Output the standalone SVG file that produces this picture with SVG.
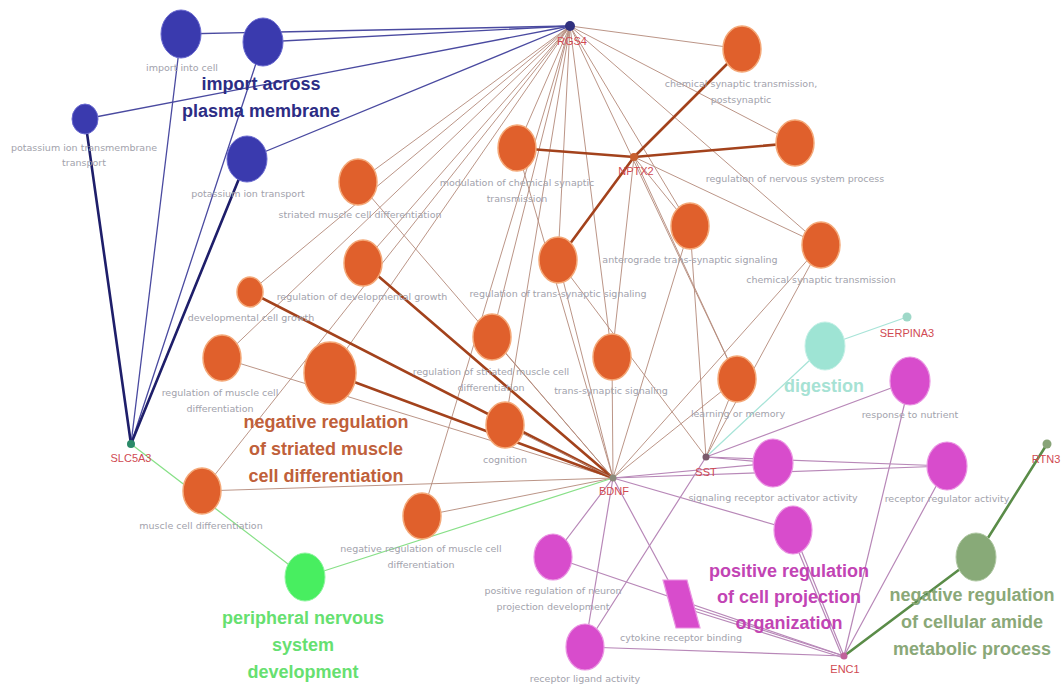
<svg xmlns="http://www.w3.org/2000/svg" width="1061" height="685" viewBox="0 0 1061 685">
<style>
.e{fill:none;stroke-linecap:round}
.eo{stroke:#b48a7a;stroke-width:1;opacity:.9}
.eot{stroke:#a3421c;stroke-width:2.6}
.eb{stroke:#4a4aa0;stroke-width:1.3}
.ebt{stroke:#1e1e6a;stroke-width:2.6}
.eg{stroke:#88e088;stroke-width:1.3}
.et{stroke:#a8e4d8;stroke-width:1.3}
.em{stroke:#b888b8;stroke-width:1.2}
.ev{stroke:#5a8c48;stroke-width:2.6}
.no{fill:#e0602c;stroke:#f4a878;stroke-width:1.5}
.nb{fill:#3a3aae;stroke:#6a6ad0;stroke-width:1}
.nm{fill:#d84ccc;stroke:#ea94e2;stroke-width:1.2}
.nt{fill:#9ee4d4;stroke:#c4f0e6;stroke-width:1}
.ng{fill:#48ee60;stroke:#90f4a0;stroke-width:1}
.nv{fill:#88aa78;stroke:#b0c8a4;stroke-width:1}
.t{font-family:"DejaVu Sans","Liberation Sans",sans-serif;font-size:9.5px;fill:#a2a2ac;text-anchor:middle}
.gl{font-family:"Liberation Sans",Arial,sans-serif;font-size:11px;fill:#d04a52;text-anchor:middle}
.big{font-family:"Liberation Sans",Arial,sans-serif;font-weight:bold;font-size:18px;text-anchor:middle}
</style>
<rect width="1061" height="685" fill="#ffffff"/>
<g id="connectors" class="e">
<!-- RGS4 blue -->
<line class="eb" x1="570" y1="26" x2="181" y2="34"/>
<line class="eb" x1="570" y1="26" x2="263" y2="42"/>
<line class="eb" x1="570" y1="26" x2="85" y2="119"/>
<line class="eb" x1="570" y1="26" x2="247" y2="159"/>
<!-- SLC5A3 blue -->
<line class="eb" x1="131" y1="444" x2="181" y2="34"/>
<line class="eb" x1="131" y1="444" x2="263" y2="42"/>
<line class="ebt" x1="131" y1="444" x2="85" y2="119"/>
<line class="ebt" x1="131" y1="444" x2="247" y2="159"/>
<!-- RGS4 orange -->
<line class="eo" x1="570" y1="26" x2="742" y2="49"/>
<line class="eo" x1="570" y1="26" x2="795" y2="143"/>
<line class="eo" x1="570" y1="26" x2="517" y2="148"/>
<line class="eo" x1="570" y1="26" x2="358" y2="182"/>
<line class="eo" x1="570" y1="26" x2="690" y2="226"/>
<line class="eo" x1="570" y1="26" x2="821" y2="245"/>
<line class="eo" x1="570" y1="26" x2="558" y2="260"/>
<line class="eo" x1="570" y1="26" x2="363" y2="263"/>
<line class="eo" x1="570" y1="26" x2="250" y2="292"/>
<line class="eo" x1="570" y1="26" x2="492" y2="337"/>
<line class="eo" x1="570" y1="26" x2="612" y2="357"/>
<line class="eo" x1="570" y1="26" x2="222" y2="358"/>
<line class="eo" x1="570" y1="26" x2="330" y2="373"/>
<line class="eo" x1="570" y1="26" x2="737" y2="379"/>
<line class="eo" x1="570" y1="26" x2="505" y2="425"/>
<line class="eo" x1="570" y1="26" x2="202" y2="491"/>
<line class="eo" x1="570" y1="26" x2="422" y2="516"/>
<!-- NPTX2 -->
<line class="eot" x1="634" y1="157" x2="742" y2="49"/>
<line class="eot" x1="634" y1="157" x2="795" y2="143"/>
<line class="eot" x1="634" y1="157" x2="517" y2="148"/>
<line class="eot" x1="634" y1="157" x2="558" y2="260"/>
<line class="eo" x1="634" y1="157" x2="690" y2="226"/>
<line class="eo" x1="634" y1="157" x2="821" y2="245"/>
<line class="eo" x1="634" y1="157" x2="612" y2="357"/>
<line class="eo" x1="634" y1="157" x2="737" y2="379"/>
<!-- BDNF orange -->
<line class="eo" x1="613" y1="478" x2="517" y2="148"/>
<line class="eo" x1="613" y1="478" x2="358" y2="182"/>
<line class="eo" x1="613" y1="478" x2="690" y2="226"/>
<line class="eo" x1="613" y1="478" x2="821" y2="245"/>
<line class="eo" x1="613" y1="478" x2="558" y2="260"/>
<line class="eot" x1="613" y1="478" x2="363" y2="263"/>
<line class="eot" x1="613" y1="478" x2="250" y2="292"/>
<line class="eo" x1="613" y1="478" x2="492" y2="337"/>
<line class="eo" x1="613" y1="478" x2="612" y2="357"/>
<line class="eo" x1="613" y1="478" x2="222" y2="358"/>
<line class="eot" x1="613" y1="478" x2="330" y2="373"/>
<line class="eo" x1="613" y1="478" x2="737" y2="379"/>
<line class="eo" x1="613" y1="478" x2="505" y2="425"/>
<line class="eo" x1="613" y1="478" x2="202" y2="491"/>
<line class="eo" x1="613" y1="478" x2="422" y2="516"/>
<!-- SST orange -->
<line class="eo" x1="706" y1="457" x2="690" y2="226"/>
<line class="eo" x1="706" y1="457" x2="821" y2="245"/>
<line class="eo" x1="706" y1="457" x2="737" y2="379"/>
<line class="eo" x1="706" y1="457" x2="558" y2="260"/>
<!-- green -->
<line class="eg" x1="131" y1="444" x2="305" y2="577"/>
<line class="eg" x1="613" y1="478" x2="305" y2="577"/>
<!-- teal -->
<line class="et" x1="706" y1="457" x2="825" y2="346"/>
<line class="et" x1="907" y1="317" x2="825" y2="346"/>
<!-- magenta -->
<line class="em" x1="613" y1="478" x2="773" y2="463"/>
<line class="em" x1="613" y1="478" x2="947" y2="466"/>
<line class="em" x1="613" y1="478" x2="793" y2="530"/>
<line class="em" x1="613" y1="478" x2="553" y2="557"/>
<line class="em" x1="613" y1="478" x2="681" y2="604"/>
<line class="em" x1="613" y1="478" x2="585" y2="647"/>
<line class="em" x1="706" y1="457" x2="910" y2="381"/>
<line class="em" x1="706" y1="457" x2="773" y2="463"/>
<line class="em" x1="706" y1="457" x2="947" y2="466"/>
<line class="em" x1="706" y1="457" x2="585" y2="647"/>
<line class="em" x1="844" y1="656" x2="910" y2="381"/>
<line class="em" x1="844" y1="656" x2="947" y2="466"/>
<line class="em" x1="844" y1="656" x2="793" y2="530"/>
<line class="em" x1="842" y1="656" x2="790" y2="531"/>
<line class="em" x1="844" y1="656" x2="553" y2="557"/>
<line class="em" x1="844" y1="656" x2="681" y2="604"/>
<line class="em" x1="844" y1="658" x2="681" y2="607"/>
<line class="em" x1="844" y1="656" x2="585" y2="647"/>
<!-- olive -->
<line class="ev" x1="844" y1="656" x2="976" y2="557"/>
<line class="ev" x1="1047" y1="444" x2="976" y2="557"/>
</g>
<g id="n-import-into-cell"><ellipse class="nb" cx="181" cy="34" rx="20" ry="24"/><text class="t" x="182" y="71">import into cell</text></g>
<g id="n-import-across-plasma-membrane"><ellipse class="nb" cx="263" cy="42" rx="20" ry="24"/><text class="big" fill="#2c2c84" x="261" y="90">import across</text><text class="big" fill="#2c2c84" x="261" y="117">plasma membrane</text></g>
<g id="n-potassium-ion-transmembrane-transport"><ellipse class="nb" cx="85" cy="119" rx="13" ry="15"/><text class="t" x="84" y="151">potassium ion transmembrane</text><text class="t" x="84" y="166">transport</text></g>
<g id="n-potassium-ion-transport"><ellipse class="nb" cx="247" cy="159" rx="20" ry="23"/><text class="t" x="248" y="197">potassium ion transport</text></g>
<g id="n-chem-syn-postsyn"><ellipse class="no" cx="742" cy="49" rx="19" ry="23"/><text class="t" x="741" y="87">chemical synaptic transmission,</text><text class="t" x="741" y="103">postsynaptic</text></g>
<g id="n-reg-nervous-system"><ellipse class="no" cx="795" cy="143" rx="19" ry="23"/><text class="t" x="795" y="182">regulation of nervous system process</text></g>
<g id="n-modulation"><ellipse class="no" cx="517" cy="148" rx="19" ry="23"/><text class="t" x="517" y="186">modulation of chemical synaptic</text><text class="t" x="517" y="202">transmission</text></g>
<g id="n-striated-muscle-cell-diff"><ellipse class="no" cx="358" cy="182" rx="19" ry="23"/><text class="t" x="360" y="218">striated muscle cell differentiation</text></g>
<g id="n-anterograde"><ellipse class="no" cx="690" cy="226" rx="19" ry="23"/><text class="t" x="690" y="263">anterograde trans-synaptic signaling</text></g>
<g id="n-chem-syn-trans"><ellipse class="no" cx="821" cy="245" rx="19" ry="23"/><text class="t" x="821" y="283">chemical synaptic transmission</text></g>
<g id="n-reg-trans-synaptic"><ellipse class="no" cx="558" cy="260" rx="19" ry="23"/><text class="t" x="558" y="297">regulation of trans-synaptic signaling</text></g>
<g id="n-reg-dev-growth"><ellipse class="no" cx="363" cy="263" rx="19" ry="23"/><text class="t" x="362" y="300">regulation of developmental growth</text></g>
<g id="n-dev-cell-growth"><ellipse class="no" cx="250" cy="292" rx="13" ry="15"/><text class="t" x="251" y="321">developmental cell growth</text></g>
<g id="n-reg-striated-muscle"><ellipse class="no" cx="492" cy="337" rx="19" ry="23"/><text class="t" x="491" y="375">regulation of striated muscle cell</text><text class="t" x="491" y="391">differentiation</text></g>
<g id="n-trans-synaptic"><ellipse class="no" cx="612" cy="357" rx="19" ry="23"/><text class="t" x="611" y="394">trans-synaptic signaling</text></g>
<g id="n-reg-muscle-cell-diff"><ellipse class="no" cx="222" cy="358" rx="19" ry="23"/><text class="t" x="220" y="396">regulation of muscle cell</text><text class="t" x="220" y="412">differentiation</text></g>
<g id="n-neg-reg-striated"><ellipse class="no" cx="330" cy="373" rx="26" ry="31"/><text class="big" fill="#c0603a" x="326" y="428">negative regulation</text><text class="big" fill="#c0603a" x="326" y="455">of striated muscle</text><text class="big" fill="#c0603a" x="326" y="482">cell differentiation</text></g>
<g id="n-learning-memory"><ellipse class="no" cx="737" cy="379" rx="19" ry="23"/><text class="t" x="738" y="417">learning or memory</text></g>
<g id="n-cognition"><ellipse class="no" cx="505" cy="425" rx="19" ry="23"/><text class="t" x="505" y="463">cognition</text></g>
<g id="n-muscle-cell-diff"><ellipse class="no" cx="202" cy="491" rx="19" ry="23"/><text class="t" x="201" y="529">muscle cell differentiation</text></g>
<g id="n-neg-reg-muscle-cell-diff"><ellipse class="no" cx="422" cy="516" rx="19" ry="23"/><text class="t" x="421" y="552">negative regulation of muscle cell</text><text class="t" x="421" y="568">differentiation</text></g>
<g id="n-digestion"><ellipse class="nt" cx="825" cy="346" rx="20" ry="24"/><text class="big" fill="#a6e2d4" x="824" y="392">digestion</text></g>
<g id="n-peripheral"><ellipse class="ng" cx="305" cy="577" rx="20" ry="24"/><text class="big" fill="#66e070" x="303" y="624">peripheral nervous</text><text class="big" fill="#66e070" x="303" y="651">system</text><text class="big" fill="#66e070" x="303" y="678">development</text></g>
<g id="n-response-nutrient"><ellipse class="nm" cx="910" cy="381" rx="20" ry="24"/><text class="t" x="910" y="418">response to nutrient</text></g>
<g id="n-signaling-receptor-activator"><ellipse class="nm" cx="773" cy="463" rx="20" ry="24"/><text class="t" x="773" y="501">signaling receptor activator activity</text></g>
<g id="n-receptor-regulator"><ellipse class="nm" cx="947" cy="466" rx="20" ry="24"/><text class="t" x="947" y="502">receptor regulator activity</text></g>
<g id="n-pos-reg-cell-projection"><ellipse class="nm" cx="793" cy="530" rx="19" ry="24"/><text class="big" fill="#c244b4" x="789" y="577">positive regulation</text><text class="big" fill="#c244b4" x="789" y="603">of cell projection</text><text class="big" fill="#c244b4" x="789" y="629">organization</text></g>
<g id="n-pos-reg-neuron-projection"><ellipse class="nm" cx="553" cy="557" rx="19" ry="23"/><text class="t" x="553" y="594">positive regulation of neuron</text><text class="t" x="553" y="610">projection development</text></g>
<g id="n-cytokine-receptor-binding"><polygon class="nm" points="663,580 687,580 700,628 676,628"/><text class="t" x="681" y="641">cytokine receptor binding</text></g>
<g id="n-receptor-ligand"><ellipse class="nm" cx="585" cy="647" rx="19" ry="23"/><text class="t" x="585" y="682">receptor ligand activity</text></g>
<g id="n-neg-reg-amide"><ellipse class="nv" cx="976" cy="557" rx="20" ry="24"/><text class="big" fill="#8aa878" x="972" y="601">negative regulation</text><text class="big" fill="#8aa878" x="972" y="628">of cellular amide</text><text class="big" fill="#8aa878" x="972" y="655">metabolic process</text></g>
<g id="g-RGS4"><circle cx="570" cy="26" r="5" fill="#30307e"/><text class="gl" x="572" y="45">RGS4</text></g>
<g id="g-NPTX2"><circle cx="634" cy="157" r="4" fill="#c86030"/><text class="gl" x="636" y="175">NPTX2</text></g>
<g id="g-SLC5A3"><circle cx="131" cy="444" r="4" fill="#2a8a68"/><text class="gl" x="131" y="462">SLC5A3</text></g>
<g id="g-BDNF"><circle cx="613" cy="478" r="3.5" fill="#8a8a7a"/><text class="gl" x="614" y="495">BDNF</text></g>
<g id="g-SST"><circle cx="706" cy="457" r="3.5" fill="#7a5a6a"/><text class="gl" x="706" y="476">SST</text></g>
<g id="g-SERPINA3"><circle cx="907" cy="317" r="4.5" fill="#9ed8c8"/><text class="gl" x="907" y="337">SERPINA3</text></g>
<g id="g-RTN3"><circle cx="1047" cy="444" r="4.5" fill="#88a478"/><text class="gl" x="1046" y="463">RTN3</text></g>
<g id="g-ENC1"><circle cx="844" cy="656" r="3.5" fill="#c0609a"/><text class="gl" x="845" y="673">ENC1</text></g>
</svg>
